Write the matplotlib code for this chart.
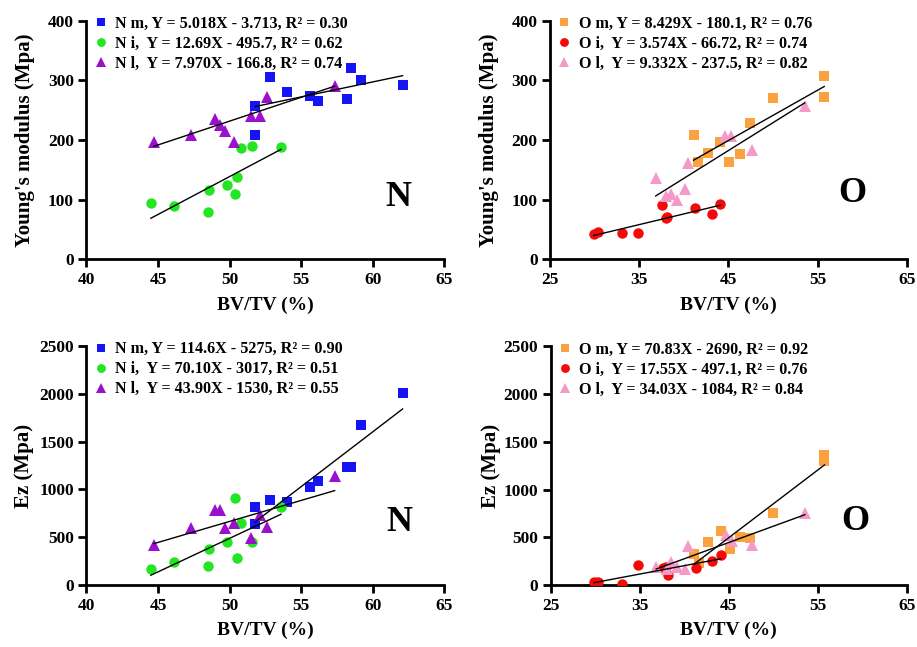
import matplotlib
matplotlib.use('Agg')
import matplotlib.pyplot as plt
import numpy as np

plt.rcParams['font.family'] = ['Liberation Serif', 'DejaVu Serif']
plt.rcParams['font.weight'] = 'bold'
plt.rcParams['axes.labelweight'] = 'bold'

# ---- data ----
# N group (BV/TV %, Young's modulus MPa, Ez MPa)
nm_x = [51.8, 51.8, 52.8, 54.0, 55.6, 56.2, 58.2, 58.5, 59.2, 62.1]
nm_young = [257, 208, 305, 280, 274, 266, 268, 321, 300, 292]
nm_ez = [813, 635, 892, 868, 1022, 1088, 1234, 1234, 1670, 2011]

ni_x = [44.5, 46.1, 48.5, 48.6, 49.8, 50.35, 50.5, 50.8, 51.6, 53.6]
ni_young = [95, 89, 80, 117, 124, 110, 138, 187, 190, 189]
ni_ez = [171, 241, 199, 373, 447, 913, 279, 652, 447, 819]

nl_x = [44.7, 47.3, 49.0, 49.3, 49.65, 50.3, 51.5, 52.1, 52.6, 57.35]
nl_young = [197, 209, 236, 226, 215, 196, 240, 240, 272, 291]
nl_ez = [415, 596, 784, 784, 596, 645, 492, 735, 610, 1143]

# O group
om_x = [41.1, 41.65, 42.7, 44.1, 45.1, 46.3, 47.4, 49.95, 55.75, 55.75]
om_young = [209, 163, 178, 197, 164, 177, 228, 270, 308, 273]
om_ez = [332, 231, 451, 570, 384, 504, 497, 759, 1361, 1305]

oi_x = [29.9, 30.35, 33.05, 34.85, 37.6, 38.0, 38.15, 41.3, 43.15, 44.1]
oi_young = [42, 46, 44, 45, 92, 69, 71, 86, 76, 93]
oi_ez = [35, 38, 14, 210, 178, 190, 108, 185, 252, 318]

ol_x = [36.85, 38.05, 38.55, 39.2, 40.1, 40.45, 44.65, 45.35, 47.65, 53.55]
ol_young = [137, 107, 109, 99, 118, 162, 206, 206, 184, 257]
ol_ez = [195, 175, 241, 195, 168, 413, 521, 468, 420, 756]

# fitted lines (slope, intercept) as printed in the legends
fit_young = {'N m': (5.018, -3.713), 'N i': (12.69, -495.7), 'N l': (7.970, -166.8),
             'O m': (8.429, -180.1), 'O i': (3.574, -66.72), 'O l': (9.332, -237.5)}
fit_ez = {'N m': (114.6, -5275), 'N i': (70.10, -3017), 'N l': (43.90, -1530),
          'O m': (70.83, -2690), 'O i': (17.55, -497.1), 'O l': (34.03, -1084)}

labels_young = {'N m': 'N m, Y = 5.018X - 3.713, R² = 0.30',
                'N i': 'N i,  Y = 12.69X - 495.7, R² = 0.62',
                'N l': 'N l,  Y = 7.970X - 166.8, R² = 0.74',
                'O m': 'O m, Y = 8.429X - 180.1, R² = 0.76',
                'O i': 'O i,  Y = 3.574X - 66.72, R² = 0.74',
                'O l': 'O l,  Y = 9.332X - 237.5, R² = 0.82'}
labels_ez = {'N m': 'N m, Y = 114.6X - 5275, R² = 0.90',
             'N i': 'N i,  Y = 70.10X - 3017, R² = 0.51',
             'N l': 'N l,  Y = 43.90X - 1530, R² = 0.55',
             'O m': 'O m, Y = 70.83X - 2690, R² = 0.92',
             'O i': 'O i,  Y = 17.55X - 497.1, R² = 0.76',
             'O l': 'O l,  Y = 34.03X - 1084, R² = 0.84'}

styles = {'N m': ('s', '#1414F5'), 'N i': ('o', '#22E622'), 'N l': ('^', '#9A10CC'),
          'O m': ('s', '#F9A23F'), 'O i': ('o', '#F50A0A'), 'O l': ('^', '#F59AC8')}

n_young = {'N m': (nm_x, nm_young), 'N i': (ni_x, ni_young), 'N l': (nl_x, nl_young)}
n_ez = {'N m': (nm_x, nm_ez), 'N i': (ni_x, ni_ez), 'N l': (nl_x, nl_ez)}
o_young = {'O m': (om_x, om_young), 'O i': (oi_x, oi_young), 'O l': (ol_x, ol_young)}
o_ez = {'O m': (om_x, om_ez), 'O i': (oi_x, oi_ez), 'O l': (ol_x, ol_ez)}

fig = plt.figure(figsize=(9.17, 6.47), dpi=100)

panels = [
    # rect, groups, fits, labels, xlim, xticks, ylim, yticks, ylabel, ylabelpad, letter, letter pos
    ([0.0943, 0.599, 0.390, 0.369], n_young, fit_young, labels_young, (40, 65), range(40, 66, 5),
     (0, 400), range(0, 401, 100), "Young's modulus (Mpa)", 9, 'N', (61.8, 103)),
    ([0.5998, 0.599, 0.389, 0.369], o_young, fit_young, labels_young, (25, 65), range(25, 66, 10),
     (0, 400), range(0, 401, 100), "Young's modulus (Mpa)", 9, 'O', (58.9, 111)),
    ([0.0943, 0.0958, 0.390, 0.3694], n_ez, fit_ez, labels_ez, (40, 65), range(40, 66, 5),
     (0, 2500), range(0, 2501, 500), 'Ez (Mpa)', 4, 'N', (61.85, 652)),
    ([0.6005, 0.0954, 0.3884, 0.3694], o_ez, fit_ez, labels_ez, (25, 65), range(25, 66, 10),
     (0, 2500), range(0, 2501, 500), 'Ez (Mpa)', 2, 'O', (59.2, 665)),
]

for rect, groups, fits, labs, xlim, xticks, ylim, yticks, ylabel, ypad, letter, lpos in panels:
    ax = fig.add_axes(rect)
    handles = []
    for key, (xs, ys) in groups.items():
        mk, col = styles[key]
        h, = ax.plot(xs, ys, linestyle='none', marker=mk, color=col,
                     markersize=7.5 if mk != '^' else 8.5, markeredgewidth=0,
                     label=labs[key], zorder=3)
        handles.append(h)
        k, b = fits[key]
        xx = np.array([min(xs), max(xs)])
        ax.plot(xx, k * xx + b, color='black', linewidth=1.0, zorder=4)
    ax.set_xlim(*xlim)
    ax.set_ylim(*ylim)
    ax.set_xticks(list(xticks))
    ax.set_yticks(list(yticks))
    for s in ['top', 'right']:
        ax.spines[s].set_visible(False)
    for s in ['left', 'bottom']:
        ax.spines[s].set_linewidth(2)
    ax.tick_params(axis='both', direction='out', length=6, width=2, labelsize=12.5, pad=3)
    for t in ax.get_xticklabels() + ax.get_yticklabels():
        t.set_fontweight('bold')
    ax.set_xlabel('BV/TV (%)', fontsize=14, fontweight='bold', labelpad=6)
    ax.set_ylabel(ylabel, fontsize=15, fontweight='bold', labelpad=ypad)
    ax.text(lpos[0], lpos[1], letter, fontsize=26, fontweight='bold',
            ha='center', va='center')
    ax.legend(handles=handles, loc='upper left', bbox_to_anchor=(0.017, 1.02),
              frameon=False, borderaxespad=0, borderpad=0, handlelength=1.0,
              handletextpad=0.4, labelspacing=0.25, markerscale=0.85,
              prop={'family': 'Liberation Serif', 'weight': 'bold', 'size': 11.6})

fig.savefig('out.png', dpi=100)
